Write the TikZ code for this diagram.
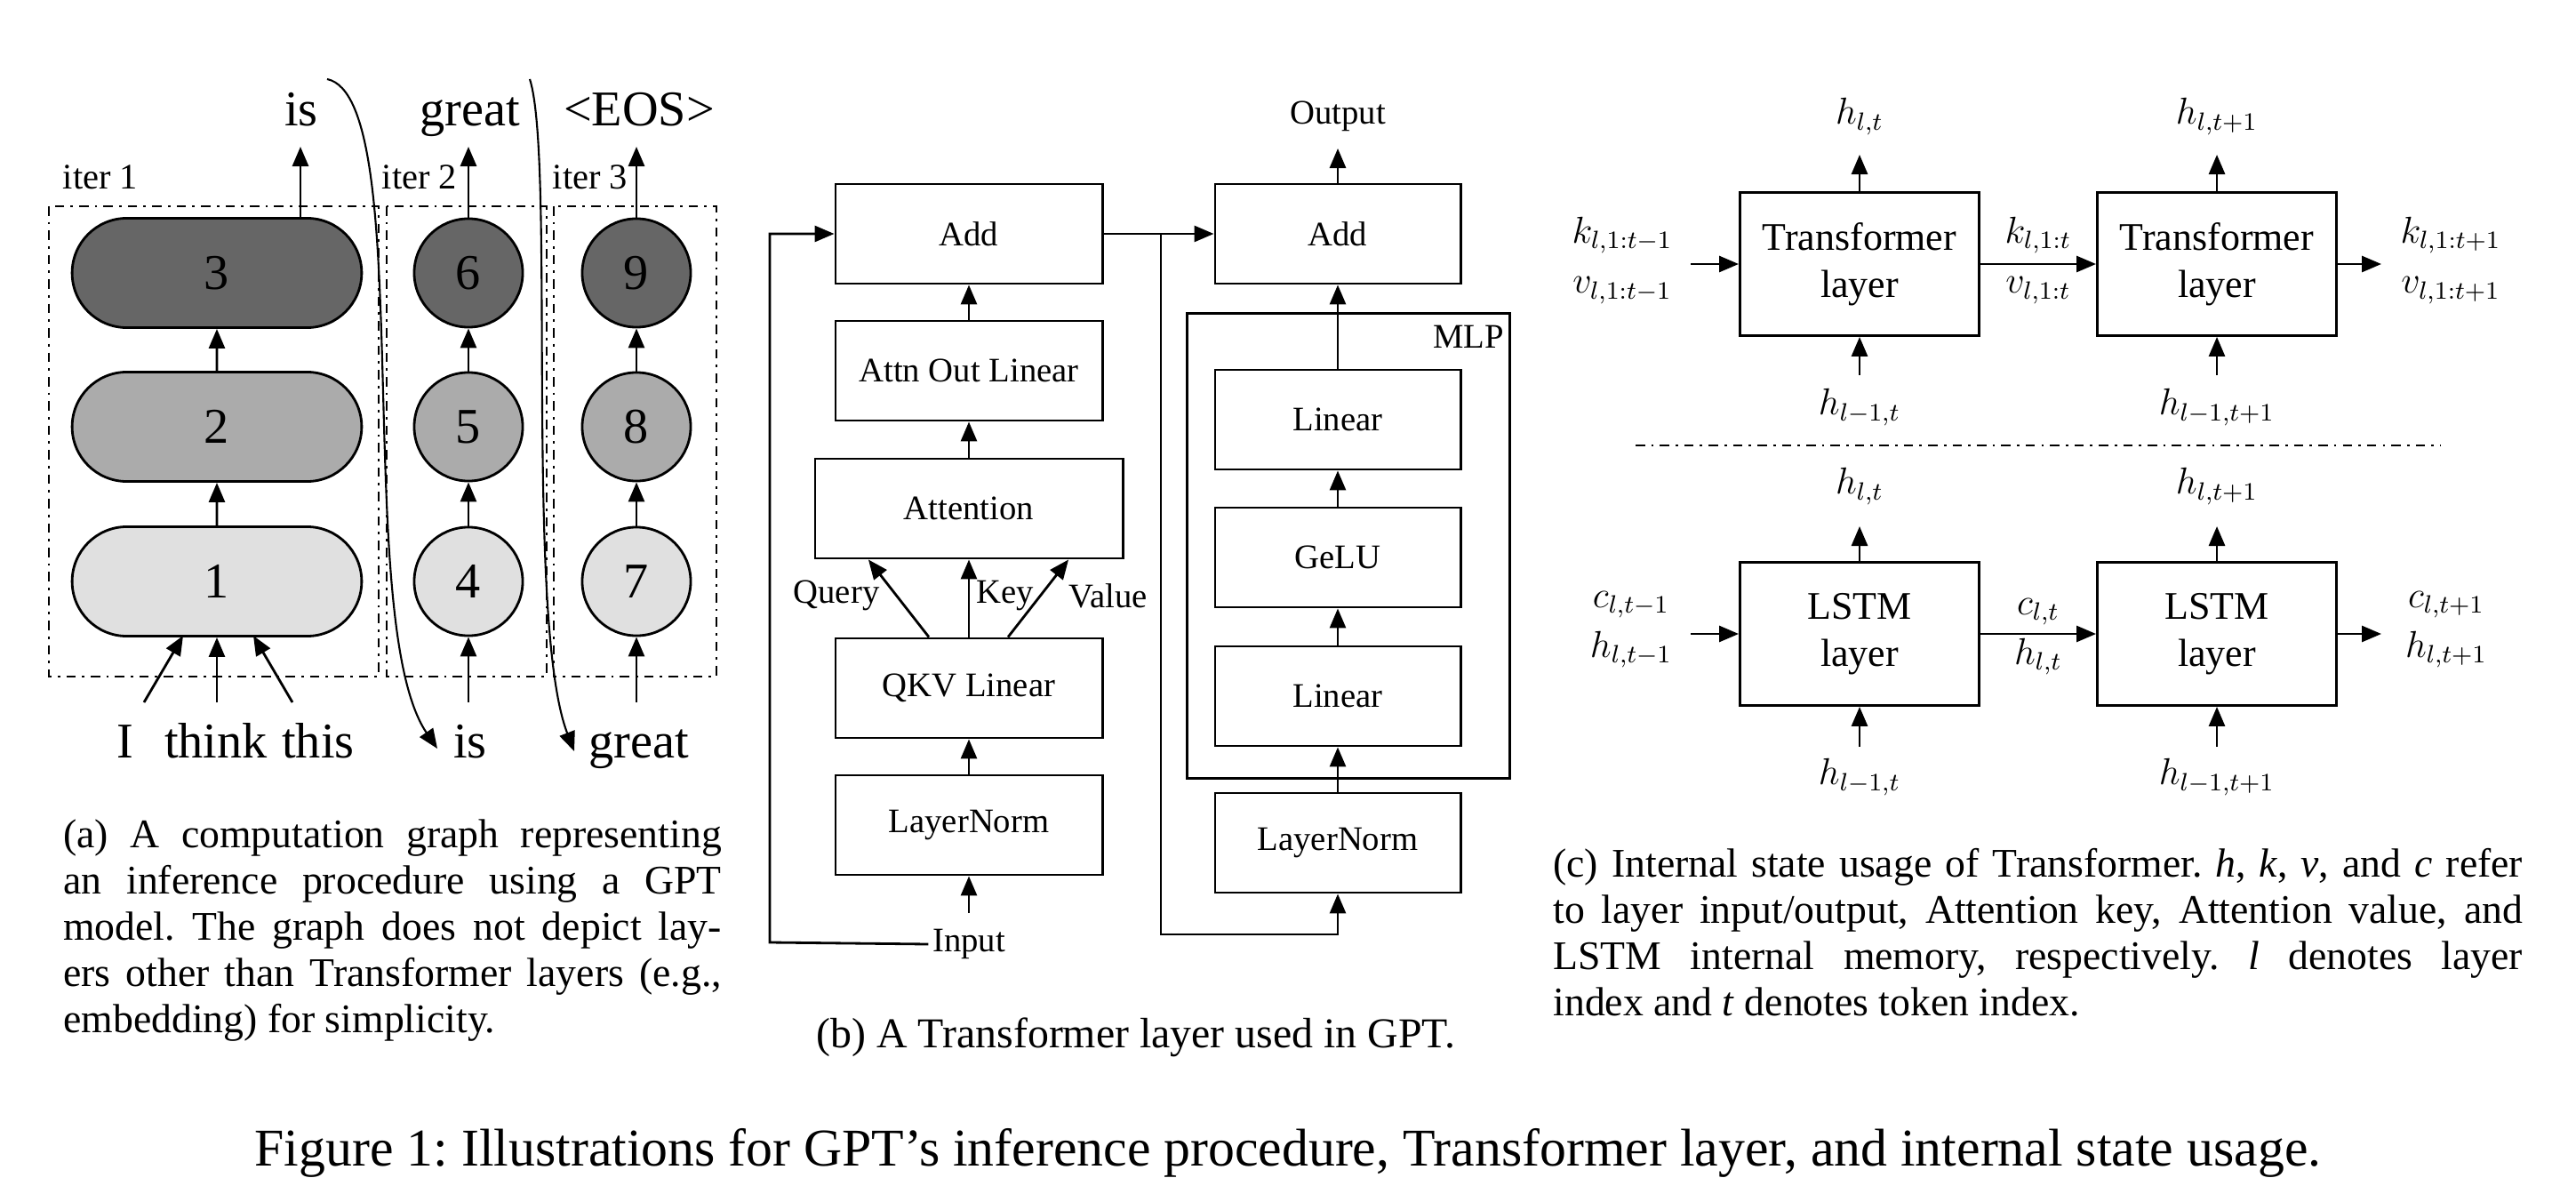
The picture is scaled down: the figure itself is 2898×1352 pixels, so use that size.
\documentclass[tikz,border=0pt]{standalone}
\usepackage{fontspec}
\setmainfont{Liberation Serif}
\usepackage{amsmath}
\usetikzlibrary{positioning,arrows.meta,shapes.misc}
\frenchspacing

\begin{document}
\begin{tikzpicture}[x=0.01cm,y=-0.01cm,line width=0.8pt,
  >={Triangle[length=2.2mm,width=1.8mm]},
  blk/.style={rectangle,draw=black,minimum height=1.12cm,font=\fontsize{11}{13}\selectfont},
  tblk/.style={rectangle,draw=black,minimum width=2.69cm,minimum height=1.61cm,align=center,font=\fontsize{12.5}{15}\selectfont},
  pill/.style={rounded rectangle,draw=black,minimum width=3.49cm,minimum height=1.23cm,font=\fontsize{16}{18}\selectfont},
  circ/.style={circle,draw=black,minimum size=1.22cm,inner sep=0pt,font=\fontsize{16}{18}\selectfont},
  word/.style={font=\fontsize{16}{18}\selectfont,inner sep=1pt,anchor=base},
  iterbox/.style={draw=black,dash dot,line width=0.7pt},
  lbl/.style={font=\fontsize{11}{13}\selectfont,inner sep=1pt},
  capt/.style={align=justify,font=\fontsize{13}{14.8}\selectfont,inner sep=0pt,anchor=north west}]
\useasboundingbox (0,0) rectangle (2898,1352);

%(a) inference graph
\draw[iterbox] (55,232) rectangle (426,761);
\draw[iterbox] (435,232) rectangle (615,761);
\draw[iterbox] (623,232) rectangle (806,761);
\node[lbl,font=\fontsize{11.5}{13}\selectfont] (iterA) at (113,199) {iter 1};
\node[lbl,font=\fontsize{11.5}{13}\selectfont] (iterB) at (472,199) {iter 2};
\node[lbl,font=\fontsize{11.5}{13}\selectfont] (iterC) at (664,199) {iter 3};

\node[pill,fill=black!12] (p1) at (244,654) {1};
\node[pill,fill=black!33] (p2) at (244,480) {2};
\node[pill,fill=black!60] (p3) at (244,307) {3};
\node[circ,fill=black!12] (c4) at (527,654) {4};
\node[circ,fill=black!33] (c5) at (527,480) {5};
\node[circ,fill=black!60] (c6) at (527,307) {6};
\node[circ,fill=black!12] (c7) at (716,654) {7};
\node[circ,fill=black!33] (c8) at (716,480) {8};
\node[circ,fill=black!60] (c9) at (716,307) {9};

\node[word] (outIs) at (339,142) {is};
\node[word] (outGreat) at (529,142) {great};
\node[word] (outEos) at (719,142) {<EOS>};
\coordinate (tipA) at (338,165);
\coordinate (tipB) at (527,165);
\coordinate (tipC) at (716,165);

\node[word] (wI) at (141,852) {I};
\node[word] (wThink) at (243,852) {think};
\node[word] (wThis) at (358,852) {this};
\node[word] (wIs) at (529,852) {is};
\node[word] (wGreat) at (719,852) {great};
\coordinate (inI) at (162,790);
\coordinate (inThink) at (244,790);
\coordinate (inThis) at (329,790);
\coordinate (inIs) at (527,790);
\coordinate (inGreat) at (716,790);

\draw[->] (inI) -- (206,715);
\draw[->] (inThink) -- (p1.south);
\draw[->] (inThis) -- (285,715);
\draw[->] (inIs) -- (c4.south);
\draw[->] (inGreat) -- (c7.south);
\draw[->] (p1) -- (p2);
\draw[->] (p2) -- (p3);
\draw[->] (c4) -- (c5);
\draw[->] (c5) -- (c6);
\draw[->] (c7) -- (c8);
\draw[->] (c8) -- (c9);
\draw[->] (p3.north -| tipA) -- (tipA);
\draw[->] (c6.north) -- (tipB);
\draw[->] (c9.north) -- (tipC);
%feedback
\coordinate (fbA) at (368,89);
\coordinate (fbB) at (596,89);
\coordinate (fbEa) at (492,842);
\coordinate (fbEb) at (646,845);
\draw[->,line width=0.6pt] (fbA) .. controls (470,110) and (395,700) .. (fbEa);
\draw[->,line width=0.6pt] (fbB) .. controls (625,180) and (590,700) .. (fbEb);

%(b) transformer layer
\node[blk,minimum width=3cm] (add1) at (1090,263) {Add};
\node[blk,minimum width=3cm] (aol) at (1090,417) {Attn Out Linear};
\node[blk,minimum width=3.46cm] (att) at (1090,572) {Attention};
\node[blk,minimum width=3cm] (qkv) at (1090,774) {QKV Linear};
\node[blk,minimum width=3cm] (ln1) at (1090,928) {LayerNorm};
\node[lbl] (inp) at (1090,1062) {Input};
\node[lbl] (qry) at (941,670) {Query};
\node[lbl] (key) at (1131,670) {Key};
\node[lbl] (val) at (1247,670) {Value};

\node[draw=black,minimum width=3.63cm,minimum height=5.23cm] (mlp) at (1517,614) {};
\node[lbl,anchor=north east] (mlpL) at ([xshift=-0.03cm,yshift=-0.1cm]mlp.north east) {MLP};
\node[blk,minimum width=2.76cm] (add2) at (1505,263) {Add};
\node[blk,minimum width=2.76cm] (lin2) at (1505,472) {Linear};
\node[blk,minimum width=2.76cm] (gelu) at (1505,627) {GeLU};
\node[blk,minimum width=2.76cm] (lin1) at (1505,783) {Linear};
\node[blk,minimum width=2.76cm] (ln2) at (1505,948) {LayerNorm};
\node[lbl] (outp) at (1505,131) {Output};

\coordinate (lp) at (866,1060);
\coordinate (jn) at (1306,1051);
\draw[->] (inp.north |- 0,1027) -- (ln1.south);
\draw[->] (ln1) -- (qkv);
\draw[->] ([xshift=-0.45cm]qkv.north) -- ([xshift=-1.13cm]att.south);
\draw[->] (qkv) -- (att);
\draw[->] ([xshift=0.44cm]qkv.north) -- ([xshift=1.12cm]att.south);
\draw[->] (att) -- (aol);
\draw[->] (aol) -- (add1);
\draw[->] (inp.west) -- (lp) |- (add1.west);
\draw[->] (add1.east) -- (add2.west);
\draw[->] (add1.east -| jn) -- (jn) -| (ln2.south);
\draw[->] (ln2) -- (lin1);
\draw[->] (lin1) -- (gelu);
\draw[->] (gelu) -- (lin2);
\draw[->] (lin2) -- (add2);
\draw[->] (add2.north) -- (outp.south |- 0,167);

%(c) state usage
\begin{scope}[every node/.append style={font=\fontsize{12}{14}\selectfont}]
\node[tblk] (tr1) at (2092,297) {Transformer\\layer};
\node[tblk] (tr2) at (2494,297) {Transformer\\layer};
\node[tblk] (ls1) at (2092,713) {LSTM\\layer};
\node[tblk] (ls2) at (2494,713) {LSTM\\layer};
\node (trOa) at (2092,131) {$h_{l,t}$};
\node (trOb) at (2494,131) {$h_{l,t+1}$};
\node (trIa) at (2092,458) {$h_{l-1,t}$};
\node (trIb) at (2494,458) {$h_{l-1,t+1}$};
\node[align=center] (trL) at (1825,293) {$k_{l,1:t-1}$\\[2pt]$v_{l,1:t-1}$};
\node[align=center] (trM) at (2293,293) {$k_{l,1:t}$\\[2pt]$v_{l,1:t}$};
\node[align=center] (trR) at (2757,293) {$k_{l,1:t+1}$\\[2pt]$v_{l,1:t+1}$};
\node (lsOa) at (2092,547) {$h_{l,t}$};
\node (lsOb) at (2494,547) {$h_{l,t+1}$};
\node (lsIa) at (2092,874) {$h_{l-1,t}$};
\node (lsIb) at (2494,874) {$h_{l-1,t+1}$};
\node[align=center] (lsL) at (1835,708) {$c_{l,t-1}$\\[2pt]$h_{l,t-1}$};
\node[align=center] (lsM) at (2293,716) {$c_{l,t}$\\[2pt]$h_{l,t}$};
\node[align=center] (lsR) at (2752,708) {$c_{l,t+1}$\\[2pt]$h_{l,t+1}$};
\end{scope}
\coordinate (eL) at (1902,0);
\coordinate (eR) at (2679,0);
\draw[->] (tr1.north) -- (tr1.north |- 0,174);
\draw[->] (tr2.north) -- (tr2.north |- 0,174);
\draw[->] (tr1.south |- 0,422) -- (tr1.south);
\draw[->] (tr2.south |- 0,422) -- (tr2.south);
\draw[->] (tr1.west -| eL) -- (tr1.west);
\draw[->] (tr1.east) -- (tr2.west);
\draw[->] (tr2.east) -- (tr2.east -| eR);
\draw[->] (ls1.north) -- (ls1.north |- 0,592);
\draw[->] (ls2.north) -- (ls2.north |- 0,592);
\draw[->] (ls1.south |- 0,840) -- (ls1.south);
\draw[->] (ls2.south |- 0,840) -- (ls2.south);
\draw[->] (ls1.west -| eL) -- (ls1.west);
\draw[->] (ls1.east) -- (ls2.west);
\draw[->] (ls2.east) -- (ls2.east -| eR);
\draw[dash dot,line width=0.7pt] (1840,501) -- (2746,501);

%captions
\node[capt,text width=7.4cm] (capA) at (70,920) {(a) A computation graph representing\linebreak an inference procedure using a GPT\linebreak model. The graph does not depict lay-\linebreak ers other than Transformer layers (e.g.,\linebreak embedding) for simplicity.};
\node[capt,anchor=north,font=\fontsize{13.6}{16}\selectfont] (capB) at (1278,1143) {(b) A Transformer layer used in GPT.};
\node[capt,text width=10.9cm] (capC) at (1746,953) {(c) Internal state usage of Transformer. \textit{h}, \textit{k}, \textit{v}, and \textit{c} refer\linebreak to layer input/output, Attention key, Attention value, and\linebreak LSTM internal memory, respectively. \textit{l} denotes layer\linebreak index and \textit{t} denotes token index.};
\node[font=\fontsize{17}{20}\selectfont] (capF) at (1449,1297) {Figure 1: Illustrations for GPT’s inference procedure, Transformer layer, and internal state usage.};
\end{tikzpicture}
\end{document}
